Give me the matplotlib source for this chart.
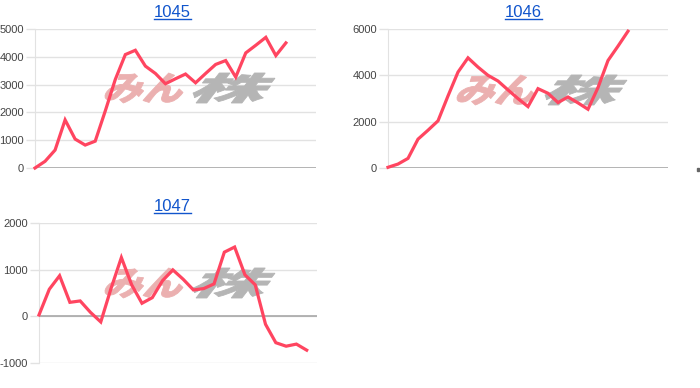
import matplotlib
matplotlib.use("Agg")
import matplotlib.pyplot as plt
from matplotlib.textpath import TextPath
from matplotlib.patches import PathPatch, Rectangle
from matplotlib.font_manager import FontProperties
from matplotlib.transforms import Affine2D
from matplotlib.lines import Line2D

# values
titles = ["1045", "1046", "1047"]
v1045 = [0, 240, 645, 1730, 1040, 825, 965, 2050, 3185, 4080, 4235, 3665, 3400,
         3030, 3210, 3380, 3065, 3400, 3725, 3865, 3270, 4140, 4415, 4700, 4045, 4500]
v1046 = [30, 170, 415, 1245, 1630, 2035, 3110, 4140, 4755, 4355, 4000, 3755, 3370,
         2995, 2650, 3425, 3225, 2825, 3065, 2810, 2535, 3470, 4640, 5260, 5905]
v1047 = [30, 580, 870, 300, 330, 85, -120, 600, 1260, 675, 280, 400, 765, 995, 795,
         565, 595, 695, 1375, 1485, 890, 675, -170, -565, -640, -595, -725]
ticks1045 = [0, 1000, 2000, 3000, 4000, 5000]
ticks1046 = [0, 2000, 4000, 6000]
ticks1047 = [-1000, 0, 1000, 2000]

W, H = 700, 388
LINE = "#ff4560"
GRID = "#e2e2e2"
BASE = "#a8a8a8"
TXT = "#444444"

fig = plt.figure(figsize=(7, 3.88), dpi=100)
fig.patch.set_facecolor("white")
pix = Affine2D().scale(1 / W, 1 / H) + fig.transFigure


def px_axes(l, r, top, bot):
    return fig.add_axes([l / W, (H - bot) / H, (r - l) / W, (bot - top) / H])


def watermark(ax, x0, y0):
    # "みん株" logo, pink + gray, slanted, stretched to the box
    prop = FontProperties(family="Noto Sans CJK JP", weight=900)
    parts = [("みん", "#ebb0b0", x0, x0 + 78), ("株", "#b5b5b5", x0 + 88, x0 + 170)]
    for s, c, xa, xb in parts:
        p = TextPath((0, 0), s, size=40, prop=prop)
        p = p.transformed(Affine2D().skew_deg(18, 0))
        e = p.get_extents()
        t = (Affine2D().translate(-e.x0, -e.y0)
             .scale((xb - xa) / e.width, 30 / e.height)
             .translate(xa, H - y0 - 30))
        p = p.transformed(t)
        ax.add_patch(PathPatch(p, facecolor=c, edgecolor=c, lw=0.6, transform=pix,
                               clip_on=False, zorder=1.5))


def chart(ax, vals, ticks, nx, title, tx, ty):
    x = list(range(len(vals)))
    ax.plot(x, vals, color=LINE, lw=2.3, solid_joinstyle="miter", zorder=3,
            clip_on=False)
    ax.set_xlim(0, nx)
    ax.set_ylim(ticks[0], ticks[-1])
    ax.set_yticks(ticks)
    ax.set_yticklabels([str(t) for t in ticks], fontsize=8, color=TXT,
                       family="Liberation Sans")
    ax.set_xticks([])
    ax.grid(axis="y", color=GRID, lw=1)
    ax.set_axisbelow(True)
    for s in ["top", "right", "bottom"]:
        ax.spines[s].set_visible(False)
    ax.spines["left"].set_color(GRID)
    ax.tick_params(axis="y", length=6.5, width=1, color=GRID, pad=1.5)
    ax.axhline(0, color=BASE, lw=1.2, zorder=2)
    for t, tl in zip(ticks, ax.yaxis.get_major_ticks()):
        if t == 0:
            tl.tick1line.set_color(BASE)
    # linked title with underline
    fig.text(tx / W, 1 - ty / H, title, ha="center", va="baseline", fontsize=12,
             color="#1155cc", family="Liberation Sans")
    fig.add_artist(Line2D([(tx - 18.5) / W, (tx + 18.5) / W],
                          [1 - (ty + 2) / H] * 2, color="#1155cc", lw=1))


ax1 = px_axes(35, 316, 29, 168)
chart(ax1, v1045, ticks1045, 28, titles[0], 172.5, 17)
watermark(ax1, 105, 73)

ax2 = px_axes(388, 668, 29, 168)
chart(ax2, v1046, ticks1046, 28, titles[1], 523, 17)
watermark(ax2, 457, 75)

ax3 = px_axes(39, 317, 223, 363)
chart(ax3, v1047, ticks1047, 27, titles[2], 172.5, 211)
watermark(ax3, 105, 268)

# stray mark at the far right edge (cut-off neighbour chart)
fig.add_artist(Rectangle((697 / W, (H - 171) / H), 2 / W, 3 / H,
                         transform=fig.transFigure, color="#666666"))

fig.savefig("out.png", dpi=100)
